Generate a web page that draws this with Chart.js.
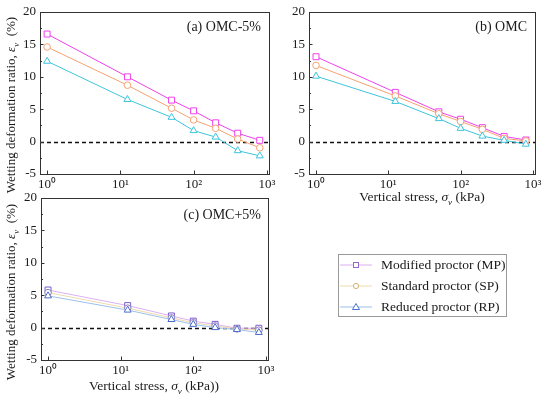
<!DOCTYPE html>
<html>
<head>
<meta charset="utf-8">
<script src="https://cdn.jsdelivr.net/npm/chart.js@4.4.1/dist/chart.umd.min.js"></script>
<style>
  body { margin: 0; background: #fff; }
  #wrap { position: relative; width: 550px; height: 398px; font-family: "Liberation Serif", serif; color: #1a1a1a; overflow: hidden; }
  canvas { position: absolute; left: 0; top: 0; }
  .t { position: absolute; white-space: nowrap; }
  .yt { font-size: 13px; transform: translate(-50%, -50%) rotate(-90deg); }
  .xt { font-size: 13.5px; transform: translate(-50%, -50%); }
  .pl { font-size: 14px; transform: translate(-100%, -50%); }
  #legend { position: absolute; left: 338px; top: 254px; width: 167px; height: 61px; border: 1px solid #999; }
  .row { position: absolute; left: 0; height: 20px; font-size: 13.5px; }
  .row svg { position: absolute; left: 1px; top: 0; }
  .row span { position: absolute; left: 42px; top: 1px; white-space: nowrap; }
</style>
</head>
<body>
<div id="wrap">
  <canvas id="pa" width="550" height="398"></canvas>
  <canvas id="pb" width="550" height="398"></canvas>
  <canvas id="pc" width="550" height="398"></canvas>

  <div class="t yt" style="left:12px;top:105px">Wetting deformation ratio, <i>ε</i><sub style="font-size:9px"><i>v</i></sub>&nbsp; (%)</div>
  <div class="t yt" style="left:12px;top:292px">Wetting deformation ratio, <i>ε</i><sub style="font-size:9px"><i>v</i></sub>&nbsp; (%)</div>
  <div class="t xt" style="left:422px;top:198px">Vertical stress, <i>σ</i><sub style="font-size:9px"><i>v</i></sub> (kPa)</div>
  <div class="t xt" style="left:154px;top:387px">Vertical stress, <i>σ</i><sub style="font-size:9px"><i>v</i></sub> (kPa))</div>
  <div class="t pl" style="left:261px;top:27px">(a) OMC-5%</div>
  <div class="t pl" style="left:527px;top:27px">(b) OMC</div>
  <div class="t pl" style="left:261px;top:215px">(c) OMC+5%</div>

  <div id="legend"></div>
</div>

<script>
// vertical stress (kPa)
const stress = [1, 12.5, 50, 100, 200, 400, 800];
const xTicks = [1, 10, 100, 1000];
const xTickLabels = ['10\u2070', '10\u00b9', '10\u00b2', '10\u00b3'];
const yTicks = [-5, -2.5, 0, 2.5, 5, 7.5, 10, 12.5, 15, 17.5, 20];
const yTickLabels = ['-5', '', '0', '', '5', '', '10', '', '15', '', '20'];
const seriesNames = ['Modified proctor (MP)', 'Standard proctor (SP)', 'Reduced proctor (RP)'];

// (a) OMC-5%
const mpA = [16.6, 10.0, 6.4, 4.75, 2.9, 1.3, 0.2];
const spA = [14.6, 8.7, 5.15, 3.35, 2.05, 0.4, -0.95];
const rpA = [12.4, 6.5, 3.75, 1.7, 0.7, -1.4, -2.2];
// (b) OMC
const mpB = [13.1, 7.6, 4.6, 3.45, 2.15, 0.8, 0.25];
const spB = [11.75, 7.05, 4.3, 3.1, 1.9, 0.5, 0.1];
const rpB = [10.1, 6.2, 3.55, 2.05, 0.85, 0.2, -0.4];
// (c) OMC+5%
const mpC = [5.8, 3.4, 1.8, 1.0, 0.5, -0.1, -0.1];
const spC = [5.4, 3.0, 1.5, 0.75, 0.25, -0.2, -0.4];
const rpC = [4.9, 2.7, 1.25, 0.5, 0.0, -0.3, -0.75];

const shapes = ['rect', 'circle', 'triangle'];
const radii = [4.2, 3.3, 4];
const brightLine = ['#f040ec', '#f4a272', '#3ec4dc'];
const paleLine = ['#dcb0f2', '#eedcae', '#9cc0ec'];
const paleMark = ['#7a5cd0', '#9080b8', '#4a6cd0'];
const legendMark = ['#9a66d0', '#d6b070', '#4a74cc'];

const tickFont = { family: 'Liberation Serif', size: 13 };

// frame, inward ticks and dashed zero line
const axesDeco = {
  id: 'axesDeco',
  beforeDatasetsDraw(chart) {
    const { ctx, chartArea: a, scales } = chart;
    const y0 = Math.round(scales.y.getPixelForValue(0)) + 0.5;
    ctx.save();
    ctx.strokeStyle = '#111';
    ctx.lineWidth = 1.3;
    ctx.setLineDash([4, 3]);
    ctx.beginPath();
    ctx.moveTo(a.left, y0);
    ctx.lineTo(a.right, y0);
    ctx.stroke();
    ctx.restore();
  },
  afterDatasetsDraw(chart) {
    const { ctx, chartArea: a, scales } = chart;
    ctx.save();
    ctx.strokeStyle = '#333';
    ctx.lineWidth = 1;
    ctx.strokeRect(a.left + 0.5, a.top + 0.5, a.right - a.left, a.bottom - a.top);
    ctx.beginPath();
    scales.y.ticks.forEach((t, i) => {
      const py = Math.round(scales.y.getPixelForValue(t.value)) + 0.5;
      const len = yTickLabels[i] ? 3.5 : 2;
      ctx.moveTo(a.left, py);
      ctx.lineTo(a.left + len, py);
    });
    scales.x.ticks.forEach(t => {
      const px = Math.round(scales.x.getPixelForValue(t.value)) + 0.5;
      ctx.moveTo(px, a.bottom);
      ctx.lineTo(px, a.bottom - 3.5);
    });
    ctx.stroke();
    ctx.restore();
  }
};

function makePanel(id, area, series, lineCols, markCols) {
  const datasets = series.map((vals, i) => ({
    label: seriesNames[i],
    data: stress.map((x, j) => ({ x: x, y: vals[j] })),
    borderColor: lineCols[i],
    borderWidth: 1,
    pointStyle: shapes[i],
    pointRadius: radii[i],
    pointBorderColor: markCols[i],
    pointBackgroundColor: '#fff',
    pointBorderWidth: 1,
    tension: 0
  })).reverse();

  return new Chart(document.getElementById(id), {
    type: 'line',
    data: { datasets: datasets },
    options: {
      responsive: false,
      animation: false,
      events: [],
      layout: {
        padding: { left: area.left - 30, top: area.top, right: 550 - area.right, bottom: 398 - area.bottom - 20 }
      },
      plugins: { legend: { display: false }, tooltip: { enabled: false } },
      scales: {
        x: {
          type: 'logarithmic',
          min: 0.8,
          max: 1070,
          afterBuildTicks: s => { s.ticks = xTicks.map(v => ({ value: v })); },
          afterFit: s => { s.height = 20; },
          grid: { display: false, drawTicks: false },
          border: { display: false },
          ticks: {
            autoSkip: false, maxRotation: 0, padding: 3,
            color: '#1a1a1a', font: tickFont,
            callback: (v, i) => xTickLabels[i]
          }
        },
        y: {
          min: -5,
          max: 20,
          afterBuildTicks: s => { s.ticks = yTicks.map(v => ({ value: v })); },
          afterFit: s => { s.width = 30; },
          grid: { display: false, drawTicks: false },
          border: { display: false },
          ticks: {
            autoSkip: false, padding: 4,
            color: '#1a1a1a', font: tickFont,
            callback: (v, i) => yTickLabels[i]
          }
        }
      }
    },
    plugins: [axesDeco]
  });
}

makePanel('pa', { left: 40, top: 12, right: 269, bottom: 174 }, [mpA, spA, rpA], brightLine, brightLine);
makePanel('pb', { left: 309, top: 12, right: 535, bottom: 174 }, [mpB, spB, rpB], brightLine, brightLine);
makePanel('pc', { left: 41, top: 198, right: 268, bottom: 360 }, [mpC, spC, rpC], paleLine, paleMark);

// legend
const legend = document.getElementById('legend');
seriesNames.forEach((name, i) => {
  const row = document.createElement('div');
  row.className = 'row';
  row.style.top = (1 + i * 21) + 'px';
  let mark;
  if (shapes[i] === 'rect') mark = '<rect x="13.5" y="6.5" width="5" height="5" fill="#fff" stroke="' + legendMark[i] + '"/>';
  else if (shapes[i] === 'circle') mark = '<circle cx="16" cy="9" r="2.6" fill="#fff" stroke="' + legendMark[i] + '"/>';
  else mark = '<polygon points="16,5.5 19.5,11.5 12.5,11.5" fill="#fff" stroke="' + legendMark[i] + '"/>';
  row.innerHTML = '<svg width="34" height="20"><line x1="0" y1="9" x2="32" y2="9" stroke="' + paleLine[i] + '" stroke-width="1"/>' + mark + '</svg><span>' + name + '</span>';
  legend.appendChild(row);
});
</script>
</body>
</html>
